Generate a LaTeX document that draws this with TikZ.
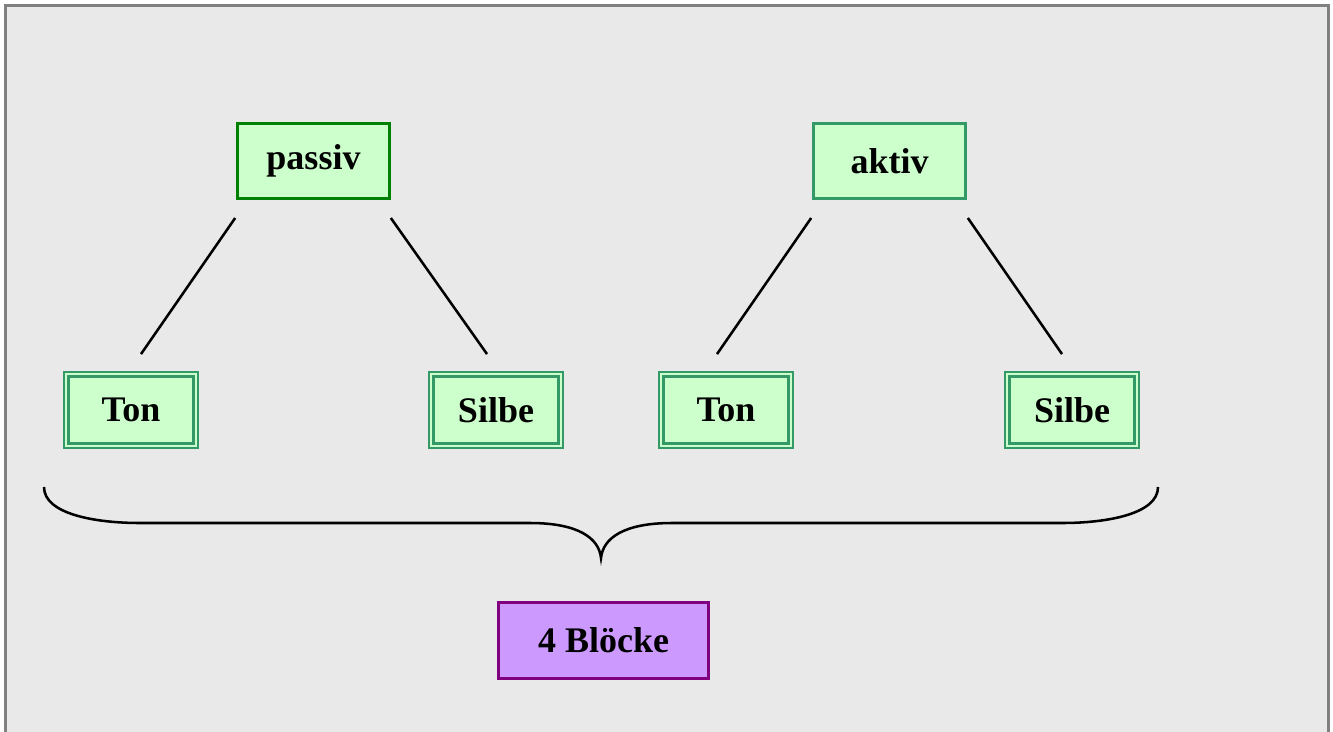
\documentclass[tikz,border=0pt]{standalone}
\usepackage{fontspec}
\setmainfont{Liberation Serif}
\definecolor{panelgray}{HTML}{E9E9E9}
\definecolor{framegray}{HTML}{808080}
\definecolor{lightgreen}{HTML}{CCFFCC}
\definecolor{darkgreen}{HTML}{008000}
\definecolor{seagreen}{HTML}{339966}
\definecolor{lilac}{HTML}{CC99FF}
\definecolor{darkpurple}{HTML}{800080}
\tikzset{
  topbox/.style={draw=seagreen, fill=lightgreen, line width=2pt,
    minimum width=114pt, minimum height=56.5pt, inner sep=0pt,
    font=\fontsize{27}{32}\selectfont\bfseries},
  leafbox/.style={draw=seagreen, double=lightgreen, double distance=1.6pt,
    line width=1.9pt, fill=lightgreen,
    minimum width=97pt, minimum height=53.5pt, inner sep=0pt,
    font=\fontsize{27}{32}\selectfont\bfseries},
  sumbox/.style={draw=darkpurple, fill=lilac, line width=2pt,
    minimum width=157.5pt, minimum height=57pt, inner sep=0pt,
    font=\fontsize{27}{32}\selectfont\bfseries},
  branch/.style={line width=1.9pt, black}
}
\begin{document}
\begin{tikzpicture}[x=0.75pt, y=-0.75pt]
      \useasboundingbox (0,0) rectangle (1333,731);
      \fill[white] (0,0) rectangle (1333,731);
      \draw[framegray, fill=panelgray, line width=2.25pt] (5.5,5.5) rectangle (1328.5,745);
      % the two groups
      \coordinate (P) at (313.5,161);
      \coordinate (A) at (889.5,161);
      \node[topbox, draw=darkgreen] (passiv) at (P) {passiv};
      \node[topbox] (aktiv) at (A) {aktiv};
      \node[leafbox] (tonP) at (131,410) {Ton};
      \node[leafbox] (silbeP) at (496,410) {Silbe};
      \node[leafbox] (tonA) at (726,410) {Ton};
      \node[leafbox] (silbeA) at (1072,410) {Silbe};
      \draw[branch] ([shift={(-1,18)}]passiv.south west) -- ([shift={(10,-19)}]tonP.north);
      \draw[branch] ([shift={(0,18)}]passiv.south east) -- ([shift={(-9,-19)}]silbeP.north);
      \draw[branch] ([shift={(-1,18)}]aktiv.south west) -- ([shift={(-9,-19)}]tonA.north);
      \draw[branch] ([shift={(1,18)}]aktiv.south east) -- ([shift={(-10,-19)}]silbeA.north);
      % brace over all four blocks
      \coordinate (BL) at (44,487);
      \coordinate (BR) at (1158,487);
      \coordinate (BT) at (601,558);
      \draw[branch] (BL) .. controls (44,514) and (95,523) .. (140,523) -- (530,523)
        .. controls (578,523) and (599,538) .. (BT)
        .. controls (603,538) and (624,523) .. (672,523) -- (1062,523)
        .. controls (1107,523) and (1158,514) .. (BR);
      \node[sumbox] (bloecke) at (603.5,640.5) {4 Blöcke};
    \end{tikzpicture}
\end{document}
